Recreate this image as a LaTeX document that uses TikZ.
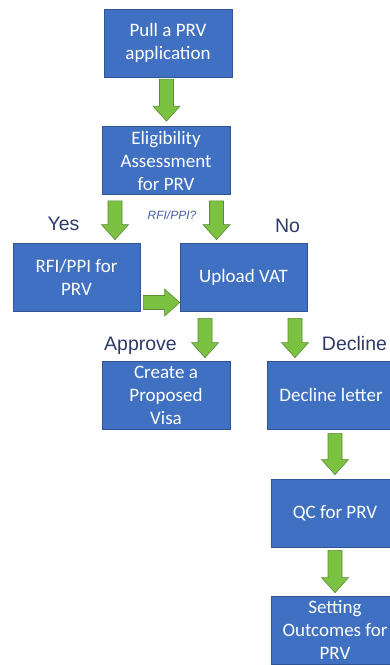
\documentclass[tikz,border=0pt]{standalone}
\usepackage{fontspec}
\setmainfont{Carlito}
\newfontfamily\labelfont{Liberation Sans}
\usetikzlibrary{calc}

\definecolor{boxblue}{HTML}{4070C2}
\definecolor{boxedge}{HTML}{2F5597}
\definecolor{arrowgreen}{HTML}{7CC242}
\definecolor{arrowedge}{HTML}{5B8A38}
\definecolor{labelnavy}{HTML}{2E3A6A}
\definecolor{questionblue}{HTML}{4A5CA8}

\tikzset{
  stepbox/.style={rectangle, fill=boxblue, draw=boxedge, line width=0.7pt,
    minimum width=128pt, minimum height=68pt, inner sep=0pt, text=white,
    align=center, font=\fontsize{19}{23}\selectfont},
  branchlabel/.style={anchor=base, text=labelnavy, inner sep=0pt,
    font=\labelfont\fontsize{19.5}{23}\selectfont},
  querylabel/.style={anchor=base, text=questionblue, inner sep=0pt,
    font=\labelfont\itshape\fontsize{12}{14}\selectfont},
  blockarrow/.style={fill=arrowgreen, draw=arrowedge, line width=0.6pt, line join=miter}
}

% Wide block arrow from #1 to #2: 14pt shaft, 27pt head, 15pt head length
\newcommand\greenarrow[2]{%
  \draw[blockarrow] let \p1=(#1), \p2=(#2), \p3=($(\p2)!15pt!(\p1)$) in
    ($(\p1)!7pt!90:(\p2)$) -- ($(\p3)!7pt!90:(\p2)$) -- ($(\p3)!13.5pt!90:(\p2)$)
    -- (\p2) -- ($(\p3)!13.5pt!-90:(\p2)$) -- ($(\p3)!7pt!-90:(\p2)$)
    -- ($(\p1)!7pt!-90:(\p2)$) -- cycle;}

\begin{document}
\begin{tikzpicture}[x=1pt, y=-1pt]
  \useasboundingbox (0,0) rectangle (390,665);
  \fill[white] (0,0) rectangle (390,665);
  \clip (0,0) rectangle (390,665);

  % process steps
  \node[stepbox] (pull)    at (168,43)    {Pull a PRV\\application};
  \node[stepbox] (elig)    at (166,160.5) {Eligibility\\Assessment\\for PRV};
  \node[stepbox, minimum width=127pt] (rfi)    at (76.5,277)  {RFI/PPI for\\PRV};
  \node[stepbox, minimum width=127pt] (upload) at (243.5,277) {Upload VAT};
  \node[stepbox] (visa)    at (166,395)   {Create a\\Proposed\\Visa};
  \node[stepbox] (decline) at (331,395)   {Decline letter};
  \node[stepbox] (qc)      at (335,513)   {QC for PRV};
  \node[stepbox] (outcome) at (335,630)   {Setting\\Outcomes for\\PRV};

  % branch labels
  \node[branchlabel] (yes)     at (63.5,230)  {Yes};
  \node[querylabel]  (query)   at (172,219)   {RFI/PPI?};
  \node[branchlabel] (no)      at (287.5,232) {No};
  \node[branchlabel] (approve) at (140.5,350) {Approve};
  \node[branchlabel] (declab)  at (354.5,350) {Decline};

  % connectors
  \greenarrow{$(elig.north)+(0.5,-47)$}{$(elig.north)+(0.5,-5)$}
  \greenarrow{$(elig.south)+(-51,6)$}{$(rfi.north)+(38.5,-3)$}
  \greenarrow{$(elig.south)+(50.5,6)$}{$(upload.north)+(-27,-3)$}
  \greenarrow{$(rfi.east)+(3,25.5)$}{$(upload.west)+(0,25.5)$}
  \greenarrow{$(upload.south)+(-38.5,7)$}{$(visa.north)+(39,-3)$}
  \greenarrow{$(upload.south)+(51.5,7)$}{$(decline.north)+(-36,-3)$}
  \greenarrow{$(decline.south)+(4,4)$}{$(qc.north)+(0,-4)$}
  \greenarrow{$(qc.south)+(0,3)$}{$(outcome.north)+(0,-3)$}
\end{tikzpicture}
\end{document}
